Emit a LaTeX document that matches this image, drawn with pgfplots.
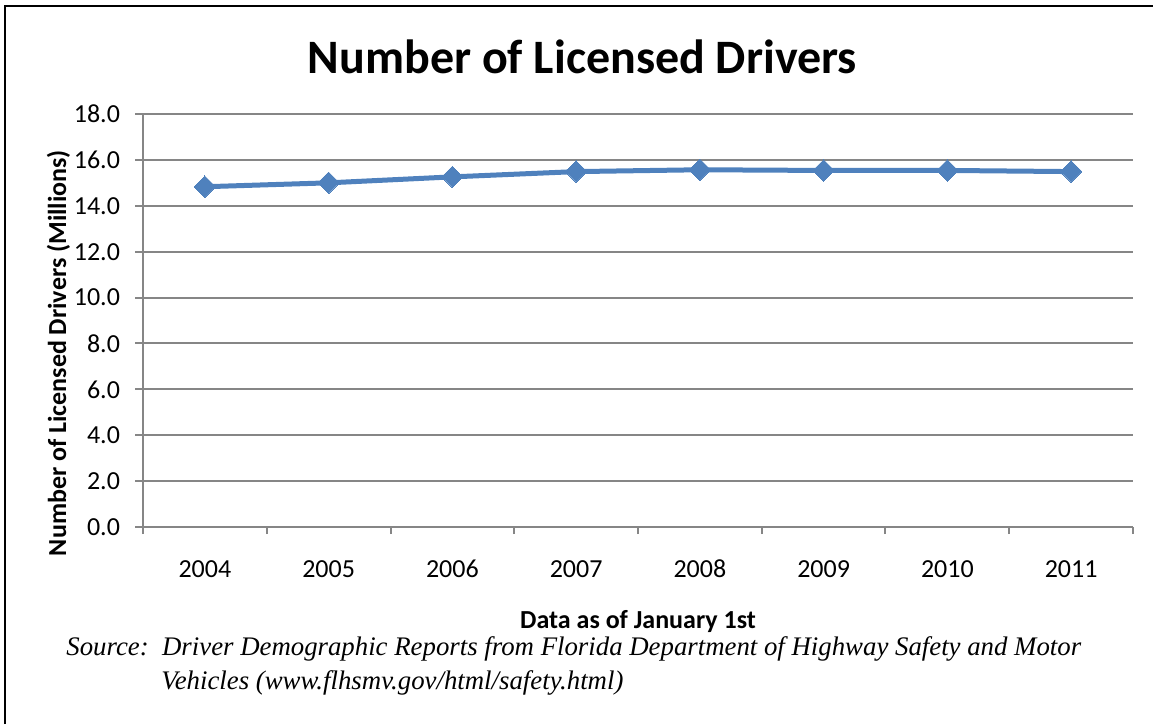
\documentclass[border=0pt]{standalone}
\usepackage{fontspec}
\setmainfont{Carlito}
\newfontfamily\srcfont{Liberation Serif}
\usepackage{pgfplots}
\pgfplotsset{compat=1.18}
\definecolor{exblue}{RGB}{79,129,189}
\definecolor{axgray}{RGB}{134,134,134}
\begin{document}
\begin{tikzpicture}
\useasboundingbox (0,0) rectangle (576.5pt,-362pt);
\draw[black,line width=1pt] (2.25pt,-362pt) -- (2.25pt,-2.75pt) -- (576.5pt,-2.75pt);
\begin{axis}[
  at={(71.5pt,-263.5pt)}, anchor=south west,
  scale only axis, width=495pt, height=206.5pt,
  xmin=0.5, xmax=8.5, ymin=0, ymax=18,
  axis x line*=bottom, axis y line*=left,
  axis line style={axgray, line width=1pt},
  xtick={1,...,8},
  xticklabels={2004,2005,2006,2007,2008,2009,2010,2011},
  minor xtick={0.5,1.5,...,8.5},
  ytick={0,2,...,18},
  ymajorgrids,
  grid style={axgray, line width=1pt},
  tick align=outside,
  major tick style={axgray, line width=1pt},
  minor tick style={axgray, line width=1pt},
  xtick style={draw=none},
  minor x tick style={draw=axgray},
  major tick length=4pt,
  minor tick length=3.5pt,
  tick label style={font=\fontsize{13}{15}\selectfont, black},
  xticklabel style={text height=8.5pt, text depth=0pt, yshift=-9pt},
  yticklabel style={xshift=-4pt},
  /pgf/number format/assume math mode=true,
  yticklabel={\pgfmathprintnumber[fixed,fixed zerofill,precision=1]{\tick}},
]
\addplot[exblue, line width=2.5pt, mark=square*, mark size=3.8pt,
  mark options={rotate=45, fill=exblue, draw=exblue, line width=0pt}]
  coordinates {(1,14.83) (2,15.00) (3,15.26) (4,15.49) (5,15.57) (6,15.54) (7,15.54) (8,15.49)};
\end{axis}
\node[anchor=base, font=\fontsize{24}{28}\selectfont\bfseries] at (291.25pt,-36.5pt) {Number of Licensed Drivers};
\node[anchor=base, font=\fontsize{13}{15}\selectfont\bfseries] at (319pt,-314pt) {Data as of January 1st};
\node[anchor=base, rotate=90, font=\fontsize{13}{15}\selectfont\bfseries] at (33pt,-176.5pt) {Number of Licensed Drivers (Millions)};
\node[anchor=base west, inner sep=0pt, font=\srcfont\itshape\fontsize{13.4}{15}\selectfont] at (33pt,-327.5pt) {Source:\ \ Driver Demographic Reports from Florida Department of Highway Safety and Motor};
\node[anchor=base west, inner sep=0pt, font=\srcfont\itshape\fontsize{13.4}{15}\selectfont] at (80.5pt,-344.5pt) {Vehicles (www.flhsmv.gov/html/safety.html)};
\end{tikzpicture}
\end{document}
